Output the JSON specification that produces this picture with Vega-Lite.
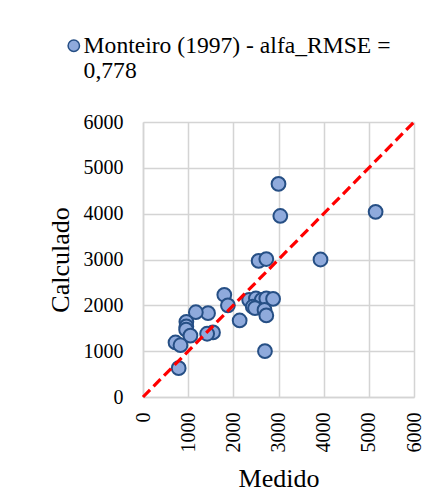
{
  "$schema": "https://vega.github.io/schema/vega-lite/v6.json",
  "width": 271,
  "height": 275,
  "autosize": {"type": "none"},
  "padding": {"left": 143, "top": 122, "right": 19, "bottom": 105},
  "background": "white",
  "config": {
    "font": "Liberation Serif",
    "view": {"stroke": null},
    "axis": {
      "domainColor": "#d4d4d4",
      "domainWidth": 1.5,
      "gridColor": "#d4d4d4",
      "gridWidth": 1.5,
      "ticks": false,
      "labelFont": "Liberation Serif",
      "labelFontSize": 20,
      "labelColor": "#000000",
      "titleFont": "Liberation Serif",
      "titleFontSize": 26,
      "titleFontWeight": "normal",
      "titleColor": "#000000"
    }
  },
  "datasets": {
    "points": [
      {"medido": 3000, "calculado": 4650},
      {"medido": 3040, "calculado": 3950},
      {"medido": 5150, "calculado": 4040},
      {"medido": 3930, "calculado": 3000},
      {"medido": 2560, "calculado": 2970},
      {"medido": 2730, "calculado": 3010},
      {"medido": 1800, "calculado": 2230},
      {"medido": 1880, "calculado": 2000},
      {"medido": 2350, "calculado": 2120},
      {"medido": 2500, "calculado": 2150},
      {"medido": 2630, "calculado": 2120},
      {"medido": 2730, "calculado": 2150},
      {"medido": 2880, "calculado": 2140},
      {"medido": 2430, "calculado": 1970},
      {"medido": 2480, "calculado": 1940},
      {"medido": 2690, "calculado": 1900},
      {"medido": 2730, "calculado": 1780},
      {"medido": 2140, "calculado": 1670},
      {"medido": 2700, "calculado": 1000},
      {"medido": 1440, "calculado": 1830},
      {"medido": 1170, "calculado": 1850},
      {"medido": 960, "calculado": 1640},
      {"medido": 960, "calculado": 1540},
      {"medido": 955, "calculado": 1470},
      {"medido": 1050, "calculado": 1340},
      {"medido": 1550, "calculado": 1410},
      {"medido": 1420, "calculado": 1380},
      {"medido": 720, "calculado": 1190},
      {"medido": 830, "calculado": 1130},
      {"medido": 790, "calculado": 630}
    ],
    "diag": [
      {"medido": 0, "calculado": 0},
      {"medido": 6000, "calculado": 6000}
    ]
  },
  "layer": [
    {
      "data": {"name": "points"},
      "mark": {"type": "point", "filled": true, "size": 190, "stroke": "#264f85", "strokeWidth": 2, "opacity": 1},
      "encoding": {
        "x": {"field": "medido", "type": "quantitative", "title": "Medido",
          "scale": {"domain": [0, 6000], "nice": false},
          "axis": {"values": [0, 1000, 2000, 3000, 4000, 5000, 6000], "format": "d", "labelFont": "Liberation Serif", "labelAngle": -90, "labelPadding": 15, "titlePadding": 13}},
        "y": {"field": "calculado", "type": "quantitative", "title": "Calculado",
          "scale": {"domain": [0, 6000], "nice": false},
          "axis": {"values": [0, 1000, 2000, 3000, 4000, 5000, 6000], "format": "d", "labelFont": "Liberation Serif", "labelPadding": 20, "titlePadding": 10}},
        "fill": {"datum": "Monteiro (1997) - alfa_RMSE = 0,778",
          "scale": {"range": ["#8faadc"]},
          "legend": {"title": null, "orient": "none", "legendX": -81, "legendY": -88,
            "labelFontSize": 23.6, "labelColor": "#000000", "labelFont": "Liberation Serif", "labelLimit": 400,
            "labelExpr": "['Monteiro (1997) - alfa_RMSE =', '0,778']",
            "symbolType": "circle", "symbolSize": 130, "symbolStrokeColor": "#264f85", "symbolStrokeWidth": 1.5,
            "labelOffset": -2}}
      }
    },
    {
      "data": {"name": "diag"},
      "mark": {"type": "line", "color": "#ff0000", "strokeWidth": 3.2, "strokeDash": [10, 5]},
      "encoding": {
        "x": {"field": "medido", "type": "quantitative"},
        "y": {"field": "calculado", "type": "quantitative"}
      }
    }
  ]
}
